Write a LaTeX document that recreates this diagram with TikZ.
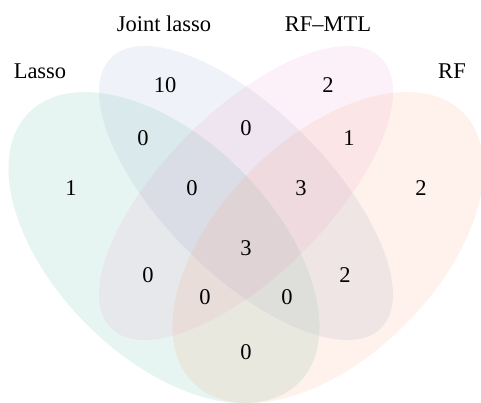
\documentclass[tikz,border=0pt]{standalone}
\usepackage{fontspec}
\setmainfont{Liberation Serif}
\definecolor{setgreen}{HTML}{66C2A5}
\definecolor{setblue}{HTML}{8DA0CB}
\definecolor{setpink}{HTML}{E78AC3}
\definecolor{setorange}{HTML}{FC8D62}
\tikzset{
  venn/.style 2 args={fill=#1, fill opacity=#2, draw=none},
  lbl/.style={anchor=base, inner sep=0pt, font=\fontsize{22.5}{26}\selectfont},
  num/.style={anchor=base, inner sep=0pt, font=\fontsize{22.5}{26}\selectfont}
}
\begin{document}
\begin{tikzpicture}[x=1pt,y=-1pt]
\useasboundingbox (0,0) rectangle (481,402);
\begin{scope}
\clip (0,0) rectangle (481,402);
\fill[venn={setgreen}{0.16}, rotate around={-45:(164,247.6)}] (164,247.6) ellipse [x radius=191pt, y radius=109pt];
\fill[venn={setblue}{0.14}, rotate around={-45:(246,193)}] (246,193) ellipse [x radius=191pt, y radius=82pt];
\fill[venn={setpink}{0.12}, rotate around={45:(246,193)}] (246,193) ellipse [x radius=191pt, y radius=82pt];
\fill[venn={setorange}{0.12}, rotate around={45:(328,247.6)}] (328,247.6) ellipse [x radius=191pt, y radius=109pt];
\end{scope}
% set labels
\node[lbl] (lasso) at (40,78.3) {Lasso};
\node[lbl] (joint) at (164,31) {Joint lasso};
\node[lbl] (rfmtl) at (328,31) {RF--MTL};
\node[lbl] (rf) at (452,78.3) {RF};
% counts
\node[num] (n1) at (165,92) {10};
\node[num] (n2) at (328,92) {2};
\node[num] (n3) at (143,145) {0};
\node[num] (n4) at (246,135) {0};
\node[num] (n5) at (349,145) {1};
\node[num] (n6) at (71,195) {1};
\node[num] (n7) at (192,195) {0};
\node[num] (n8) at (301,195) {3};
\node[num] (n9) at (421,195) {2};
\node[num] (n10) at (246,255) {3};
\node[num] (n11) at (148,282) {0};
\node[num] (n12) at (345,282) {2};
\node[num] (n13) at (205,304) {0};
\node[num] (n14) at (287,304) {0};
\node[num] (n15) at (246,359) {0};
\end{tikzpicture}
\end{document}
